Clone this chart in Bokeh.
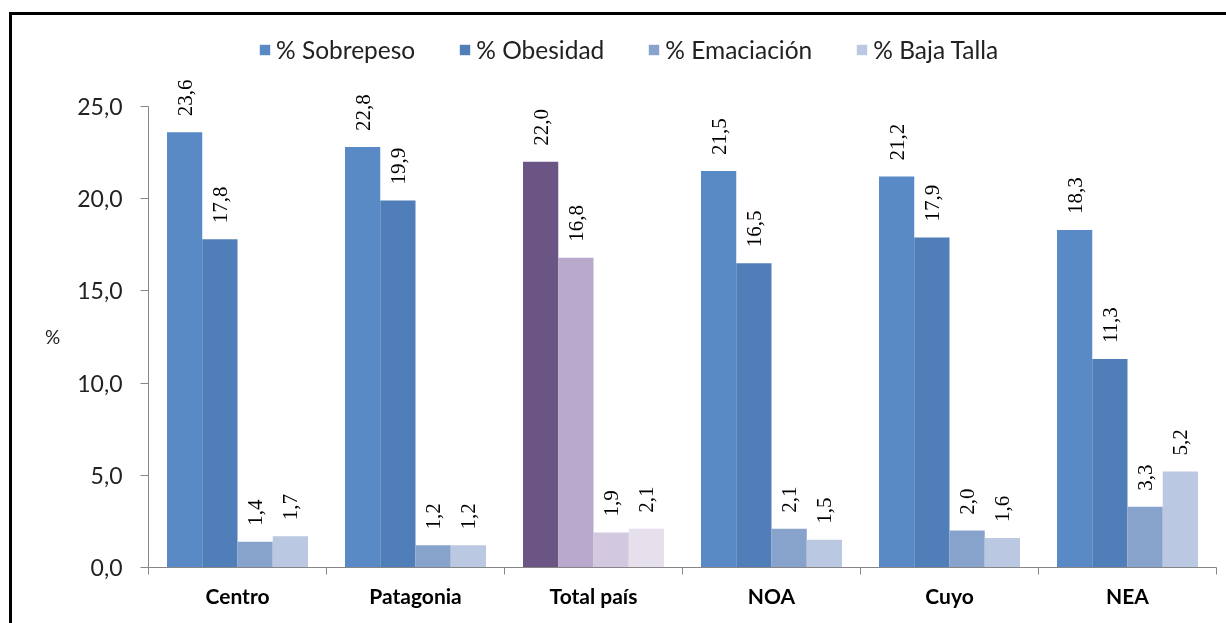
from bokeh.plotting import figure
from bokeh.models import (ColumnDataSource, Range1d, FixedTicker, CustomJSTickFormatter,
                          LabelSet, Legend, LegendItem)
from bokeh.embed import file_html
from bokeh.resources import INLINE
import math

categories = ["Centro", "Patagonia", "Total país", "NOA", "Cuyo", "NEA"]
series = ["% Sobrepeso", "% Obesidad", "% Emaciación", "% Baja Talla"]
sobrepeso = [23.6, 22.8, 22.0, 21.5, 21.2, 18.3]
obesidad = [17.8, 19.9, 16.8, 16.5, 17.9, 11.3]
emaciacion = [1.4, 1.2, 1.9, 2.1, 2.0, 3.3]
baja_talla = [1.7, 1.2, 2.1, 1.5, 1.6, 5.2]
values = [sobrepeso, obesidad, emaciacion, baja_talla]
y_ticks = [0, 5, 10, 15, 20, 25]

blue_colors = ["#5A8AC6", "#4F7EB8", "#87A2CB", "#BBC8E1"]
purple_colors = ["#6A5584", "#B8A8CB", "#D2C8DF", "#E6E0ED"]
highlight = "Total país"

FONT = "Lato"

p = figure(width=1226, height=620, x_range=Range1d(0, len(categories)),
           y_range=Range1d(0, 29.12), output_backend="svg", toolbar_location=None,
           min_border_left=136, min_border_right=22, min_border_top=15,
           min_border_bottom=68)
p.styles = {"position": "fixed", "left": "9px", "top": "12px",
            "border-top": "3px solid black", "border-left": "3px solid black"}
p.outline_line_color = None
p.xgrid.visible = False
p.ygrid.visible = False

bw = 0.198
items = []
for j, (name, vals) in enumerate(zip(series, values)):
    xs = [i + 0.5 + (j - 1.5) * bw for i in range(len(categories))]
    colors = [purple_colors[j] if c == highlight else blue_colors[j] for c in categories]
    labels = [f"{v:.1f}".replace(".", ",") for v in vals]
    src = ColumnDataSource(dict(x=xs, top=vals, color=colors, label=labels))
    r = p.vbar(x="x", top="top", width=bw, fill_color="color", line_color=None, source=src)
    items.append(LegendItem(label=name, renderers=[r], index=0))
    ls = LabelSet(x="x", y="top", text="label", source=src, angle=math.pi / 2,
                  text_align="left", text_baseline="middle", y_offset=16,
                  text_font=FONT, text_font_size="21px", text_color="#000000")
    p.add_layout(ls)

legend = Legend(items=items, orientation="horizontal", location=(110, 503),
                glyph_width=13, glyph_height=13, label_standoff=5, spacing=43,
                label_text_font=FONT, label_text_font_size="24.5px",
                label_text_color="#222222", background_fill_alpha=0,
                border_line_color=None, padding=0, margin=0)
p.add_layout(legend, "center")

# y axis
p.yaxis.bounds = (0, 25)
p.yaxis.ticker = FixedTicker(ticks=y_ticks, minor_ticks=[])
p.yaxis.formatter = CustomJSTickFormatter(code="return tick.toFixed(1).replace('.', ',');")
p.yaxis.major_label_text_font = FONT
p.yaxis.major_label_text_font_size = "23px"
p.yaxis.major_label_text_color = "#222222"
p.yaxis.major_tick_out = 8
p.yaxis.major_tick_in = 0
p.yaxis.major_label_standoff = 18
p.yaxis.axis_line_color = "#868686"
p.yaxis.major_tick_line_color = "#868686"
p.yaxis.axis_label = "\n\n\n%"
p.yaxis.axis_label_orientation = "horizontal"
p.yaxis.axis_label_text_font = FONT
p.yaxis.axis_label_text_font_style = "normal"
p.yaxis.axis_label_text_font_size = "19px"
p.yaxis.axis_label_text_line_height = 1.09
p.yaxis.axis_label_text_color = "#222222"
p.yaxis.axis_label_standoff = 14

# x axis
centers = [i + 0.5 for i in range(len(categories))]
bounds = [i for i in range(len(categories) + 1)]
p.xaxis.ticker = FixedTicker(ticks=centers, minor_ticks=bounds)
p.xaxis.major_label_overrides = {c: lab for c, lab in zip(centers, categories)}
p.xaxis.major_tick_out = 0
p.xaxis.major_tick_in = 0
p.xaxis.minor_tick_out = 7
p.xaxis.minor_tick_in = 0
p.xaxis.minor_tick_line_color = "#868686"
p.xaxis.axis_line_color = "#868686"
p.xaxis.major_label_text_font = FONT
p.xaxis.major_label_text_font_style = "bold"
p.xaxis.major_label_text_font_size = "21px"
p.xaxis.major_label_text_color = "#000000"
p.xaxis.major_label_standoff = 8

open("out.html", "w").write(file_html(p, INLINE))
